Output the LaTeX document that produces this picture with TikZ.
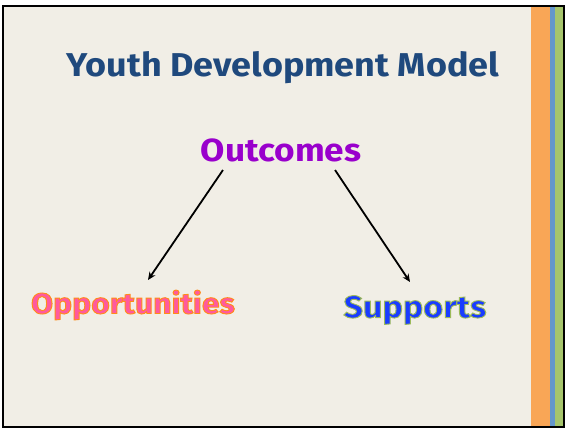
\documentclass[tikz,border=0pt]{standalone}
\usepackage{fontspec}
\setmainfont{Fira Sans}
\usetikzlibrary{arrows.meta}
\definecolor{bg}{HTML}{F1EEE6}
\definecolor{titleblue}{HTML}{1F497D}
\definecolor{outpurple}{HTML}{9900CC}
\definecolor{opppink}{HTML}{FF5A9E}
\definecolor{supblue}{HTML}{1A3CFF}
\definecolor{stripeorange}{HTML}{F9A656}
\definecolor{stripeblue}{HTML}{6497CB}
\definecolor{stripegreen}{HTML}{A6C56C}
% outlined text: #1 = stroke colour as PDF RGB triple, #2 = text
\newcommand\strokedtext[2]{\special{pdf:literal direct 2 Tr 0.9 w #1 RG}#2\special{pdf:literal direct 0 Tr}}
\tikzset{
  lbl/.style={inner sep=0pt, font=\bfseries},
  arr/.style={-{Stealth[length=8pt,width=7pt]}, line width=1.8pt, black}
}
\begin{document}
\begin{tikzpicture}[x=1pt,y=-1pt]
\useasboundingbox (0,0) rectangle (565,429);
\fill[bg] (3,6) rectangle (564,427);
\fill[stripeorange] (531,6) rectangle (550,427);
\fill[stripeblue] (550,6) rectangle (555,427);
\fill[stripegreen] (555,6) rectangle (564,427);
\draw[line width=2pt] (3,6) rectangle (564,427);
\node[lbl, text=titleblue, font=\bfseries\fontsize{33}{38}\selectfont] (title) at (283,68) {\scalebox{1.09}[1]{Youth Development Model}};
\node[lbl, text=outpurple, font=\bfseries\fontsize{32}{36}\selectfont] (out) at (281,150) {\scalebox{1.1}[1]{Outcomes}};
\node[lbl, text=opppink, font=\bfseries\fontsize{29}{34}\selectfont] (opp) at (133,305) {\scalebox{1.1}[1]{\strokedtext{1 0.55 0.1}{Opportunities}}};
\node[lbl, text=supblue, font=\bfseries\fontsize{31}{36}\selectfont] (sup) at (415,310) {\scalebox{1.1}[1]{\strokedtext{0.61 0.73 0.35}{Supports}}};
\coordinate (a1) at (223,170);
\coordinate (a2) at (335,170);
\coordinate (b1) at (148,280);
\coordinate (b2) at (410,282);
\draw[arr] (a1) -- (b1);
\draw[arr] (a2) -- (b2);
\end{tikzpicture}
\end{document}
